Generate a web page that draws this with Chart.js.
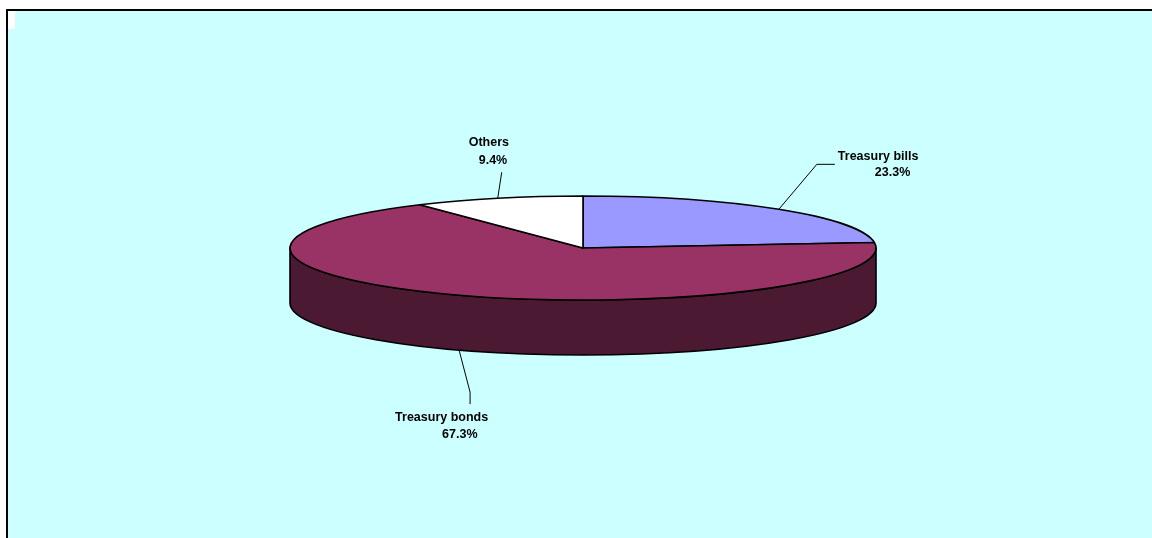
<!DOCTYPE html>
<html>
<head>
<meta charset="utf-8">
<script src="https://cdn.jsdelivr.net/npm/chart.js@4/dist/chart.umd.min.js"></script>
<style>
  body { margin: 0; background: #fff; overflow: hidden; }
  #frame {
    position: absolute; left: 6px; top: 9px; width: 1200px; height: 600px;
    border-left: 2px solid #000; border-top: 2px solid #000; background: #CCFFFF;
  }
  #mark { position: absolute; left: 8px; top: 11px; width: 7px; height: 18px; background: #fff; }
  #pieChart { position: absolute; left: 0; top: 0; }
</style>
</head>
<body>
<div id="frame"></div>
<div id="mark"></div>
<canvas id="pieChart" width="1152" height="538"></canvas>
<script>
// data
const categories = ['Treasury bills', 'Treasury bonds', 'Others'];
const shares = [23.3, 67.3, 9.4];
const sliceColors = ['#9999FF', '#993366', '#FFFFFF'];

// 3d look
const STRETCH_X = 2.0;   // widen the pie
const SQUASH_Y = 0.355;  // tilt
const DEPTH = 55;        // wall height

// where each label sits, relative to the point where its leader starts
// (same order as categories)
const labelLayout = [
  { path: [[38, -45], [56, -45]], lines: [[59, -53], [96, -37]] },
  { path: [[11, 42], [11, 54]], lines: [[-64, 67], [-17, 84]] },
  { path: [[4, -26]], lines: [[-29, -56], [-19, -38]] }
];

function darker(hex) {
  const n = parseInt(hex.slice(1), 16);
  const r = (n >> 16) >> 1, g = ((n >> 8) & 255) >> 1, b = (n & 255) >> 1;
  return 'rgb(' + r + ',' + g + ',' + b + ')';
}

function geom(chart) {
  const arcs = chart.getDatasetMeta(0).data;
  const a = arcs[0];
  return { arcs: arcs, cx: a.x, cy: a.y, rx: a.outerRadius * STRETCH_X, ry: a.outerRadius * SQUASH_Y };
}

const pie3d = {
  id: 'pie3d',
  beforeDatasetsDraw(chart) {
    const ctx = chart.ctx;
    const g = geom(chart);
    ctx.save();
    ctx.lineWidth = 1.6;
    ctx.strokeStyle = '#000';
    ctx.lineJoin = 'round';

    // front walls
    g.arcs.forEach(function(arc, i) {
      const a1 = Math.max(arc.startAngle, 0);
      const a2 = Math.min(arc.endAngle, Math.PI);
      if (a2 <= a1) return;
      ctx.beginPath();
      ctx.ellipse(g.cx, g.cy, g.rx, g.ry, 0, a1, a2, false);
      ctx.lineTo(g.cx + g.rx * Math.cos(a2), g.cy + DEPTH + g.ry * Math.sin(a2));
      ctx.ellipse(g.cx, g.cy + DEPTH, g.rx, g.ry, 0, a2, a1, true);
      ctx.closePath();
      ctx.fillStyle = darker(sliceColors[i]);
      ctx.fill();
      ctx.stroke();
    });

    // top faces
    g.arcs.forEach(function(arc, i) {
      ctx.beginPath();
      ctx.moveTo(g.cx, g.cy);
      ctx.ellipse(g.cx, g.cy, g.rx, g.ry, 0, arc.startAngle, arc.endAngle, false);
      ctx.closePath();
      ctx.fillStyle = sliceColors[i];
      ctx.fill();
      ctx.stroke();
    });
    ctx.restore();
    return false;
  },
  afterDraw(chart) {
    const ctx = chart.ctx;
    const g = geom(chart);
    ctx.save();
    ctx.strokeStyle = '#000';
    ctx.lineWidth = 1;
    ctx.fillStyle = '#000';
    ctx.font = 'bold 12.5px "Liberation Sans", Arial, sans-serif';
    ctx.textBaseline = 'middle';
    ctx.textAlign = 'left';
    g.arcs.forEach(function(arc, i) {
      const mid = (arc.startAngle + arc.endAngle) / 2;
      const sx = g.cx + g.rx * Math.cos(mid);
      let sy = g.cy + g.ry * Math.sin(mid);
      if (Math.sin(mid) > 0) sy += DEPTH;
      const lay = labelLayout[i];
      ctx.beginPath();
      ctx.moveTo(sx, sy);
      lay.path.forEach(function(p) { ctx.lineTo(sx + p[0], sy + p[1]); });
      ctx.stroke();
      const texts = [categories[i], shares[i].toFixed(1) + '%'];
      texts.forEach(function(t, k) {
        ctx.fillText(t, sx + lay.lines[k][0], sy + lay.lines[k][1]);
      });
    });
    ctx.restore();
  }
};

new Chart(document.getElementById('pieChart'), {
  type: 'pie',
  data: {
    labels: categories,
    datasets: [{
      data: shares,
      backgroundColor: sliceColors,
      borderColor: '#000',
      borderWidth: 1
    }]
  },
  options: {
    responsive: false,
    animation: false,
    devicePixelRatio: 1,
    layout: { padding: { left: 20, right: 6, top: 101, bottom: 143 } },
    plugins: {
      legend: { display: false },
      tooltip: { enabled: false }
    }
  },
  plugins: [pie3d]
});
</script>
</body>
</html>
